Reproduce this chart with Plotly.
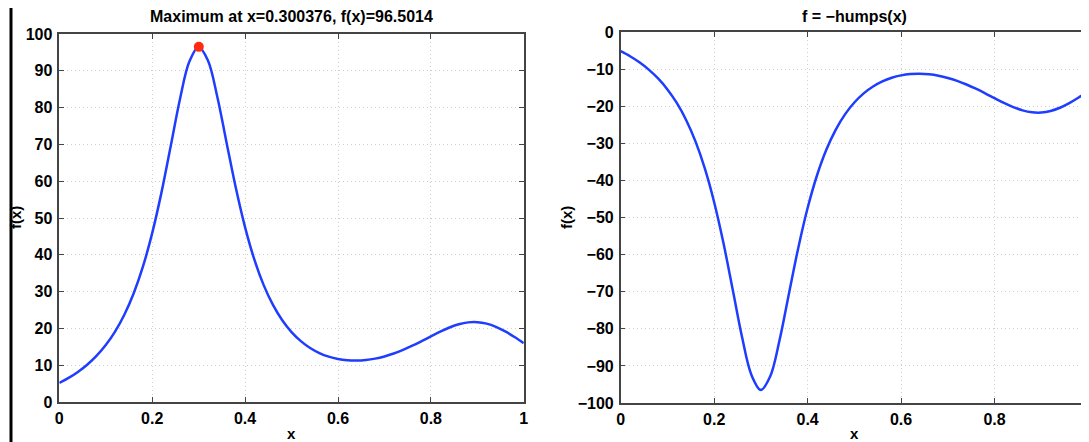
import plotly.graph_objects as go

x_vals = [0.00, 0.02, 0.04, 0.06, 0.08, 0.10, 0.12, 0.14, 0.16, 0.18,
          0.20, 0.22, 0.24, 0.26, 0.28, 0.30, 0.32, 0.34, 0.36, 0.38,
          0.40, 0.42, 0.44, 0.46, 0.48, 0.50, 0.52, 0.54, 0.56, 0.58,
          0.60, 0.62, 0.64, 0.66, 0.68, 0.70, 0.72, 0.74, 0.76, 0.78,
          0.80, 0.82, 0.84, 0.86, 0.88, 0.90, 0.92, 0.94, 0.96, 0.98, 1.00]
f_vals = [5.177, 6.540, 8.170, 10.134, 12.527, 15.471, 19.127, 23.709, 29.486, 36.775,
          45.887, 56.966, 69.632, 82.431, 92.510, 96.500, 92.811, 83.035, 70.545, 58.197,
          47.448, 38.682, 31.758, 26.371, 22.206, 19.000, 16.546, 14.689, 13.313, 12.335,
          11.692, 11.343, 11.256, 11.409, 11.789, 12.382, 13.177, 14.156, 15.291, 16.542,
          17.846, 19.118, 20.251, 21.129, 21.639, 21.703, 21.288, 20.422, 19.180, 17.669, 16.000]
neg_vals = [-v for v in f_vals]

max_x = [0.300376]
max_f = [96.5014]

left_title = "Maximum at x=0.300376, f(x)=96.5014"
right_title = "f = \u2212humps(x)"
x_ticks = [0, 0.2, 0.4, 0.6, 0.8, 1]
x_ticklabels = ["0", "0.2", "0.4", "0.6", "0.8", "1"]

# page body has an 8px margin: figure is drawn offset by (8, 8)
OFF = 8
W, H = 1089 - OFF, 442 - OFF
BLUE = "#1f3dff"
RED = "#ff2a10"
AXC = "#444444"
FONT = "Liberation Sans, Arial, sans-serif"

def px(x):
    return (x - OFF) / W

def py(y):
    return 1 - (y - OFF) / H

fig = go.Figure()
fig.add_trace(go.Scatter(x=x_vals, y=f_vals, mode="lines", line=dict(color=BLUE, width=2.5, shape="spline"),
                         xaxis="x", yaxis="y", showlegend=False))
fig.add_trace(go.Scatter(x=max_x, y=max_f, mode="markers", marker=dict(color=RED, size=10),
                         xaxis="x", yaxis="y", showlegend=False))
fig.add_trace(go.Scatter(x=x_vals, y=neg_vals, mode="lines", line=dict(color=BLUE, width=2.5, shape="spline"),
                         xaxis="x2", yaxis="y2", showlegend=False))

tickfont = dict(family=FONT, size=16, color="black", weight="bold")
GRID = "#cfcfcf"

def xax(domain, anchor):
    return dict(domain=domain, anchor=anchor, range=[0, 1], tickvals=x_ticks, ticktext=x_ticklabels,
                ticks="inside", ticklen=5, tickcolor=AXC, mirror="ticks", showline=True, linecolor=AXC,
                linewidth=1.5, showgrid=True, gridcolor=GRID, griddash="1px,3px", gridwidth=1,
                zeroline=False, tickfont=tickfont, ticklabelstandoff=1, automargin=False,
                ticklabeloverflow="allow")

def yax(domain, anchor, rng):
    return dict(domain=domain, anchor=anchor, range=rng, dtick=10, tick0=0,
                ticks="inside", ticklen=5, tickcolor=AXC, mirror="ticks", showline=True, linecolor=AXC,
                linewidth=1.5, showgrid=True, gridcolor=GRID, griddash="1px,3px", gridwidth=1,
                zeroline=False, tickfont=tickfont, ticklabelstandoff=2, automargin=False)

lx = [px(59.3), px(523.8)]
rx = [px(620.7), px(1088)]
ly = [py(402), py(34)]
ry = [py(403), py(32)]

fig.update_layout(
    width=W, height=H, margin=dict(l=0, r=0, t=0, b=0, autoexpand=False),
    paper_bgcolor="white", plot_bgcolor="white",
    xaxis=xax(lx, "y"), yaxis=yax(ly, "x", [0, 100]),
    xaxis2=xax(rx, "y2"), yaxis2=yax(ry, "x2", [-100, 0]),
    font=dict(family=FONT, color="black"),
)

def ann(text, x, y, angle=0, size=15):
    fig.add_annotation(text="<b>%s</b>" % text, x=px(x), y=py(y), xref="paper", yref="paper",
                       showarrow=False, textangle=angle, font=dict(family=FONT, size=size, color="black"),
                       xanchor="center", yanchor="middle")

ann(left_title, 291.5, 17, size=16)
ann(right_title, 854, 16, size=16)
ann("x", 291, 433)
ann("x", 854, 433)
ann("f(x)", 15, 218, angle=-90)
ann("f(x)", 566, 218, angle=-90)

fig.add_shape(type="line", xref="paper", yref="paper", x0=px(11), x1=px(11), y0=0, y1=1,
              line=dict(color="black", width=3))

fig.write_html("out.html")
